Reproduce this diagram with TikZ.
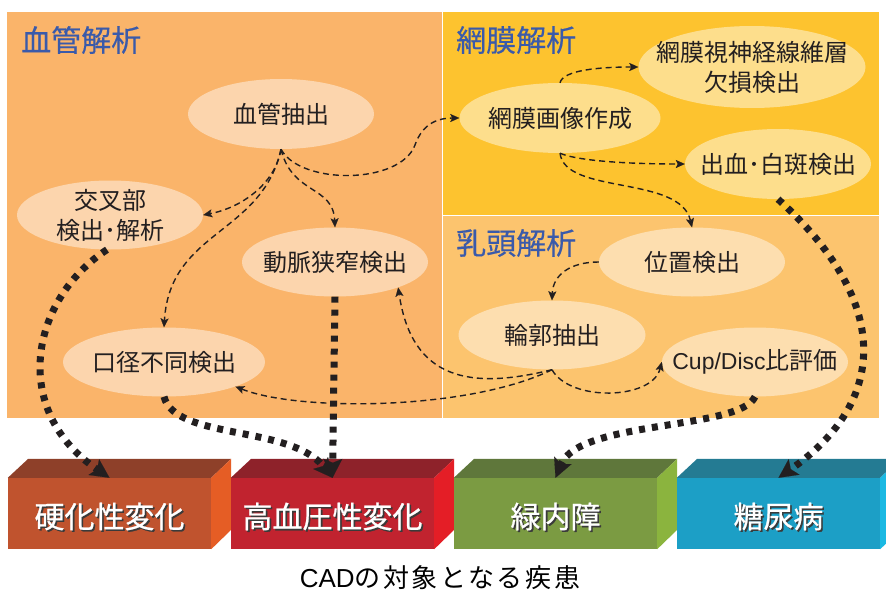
\documentclass[tikz,border=0pt]{standalone}
\usepackage{fontspec}
\setmainfont{Noto Sans CJK JP}
\newfontfamily\arialish{Liberation Sans}
\usetikzlibrary{arrows.meta,shapes.geometric}
\definecolor{panelL}{HTML}{FAB46A}
\definecolor{panelTR}{HTML}{FDC32F}
\definecolor{panelBR}{HTML}{FCC46E}
\definecolor{titleblue}{HTML}{3A5AAA}
\definecolor{ink}{HTML}{231F20}
\definecolor{shadowgray}{HTML}{3A3A3A}
\definecolor{bAf}{HTML}{C0532E}\definecolor{bAt}{HTML}{8E4029}\definecolor{bAs}{HTML}{E55D25}
\definecolor{bBf}{HTML}{C1232F}\definecolor{bBt}{HTML}{8E222A}\definecolor{bBs}{HTML}{E41E26}
\definecolor{bCf}{HTML}{7B9B42}\definecolor{bCt}{HTML}{5F773B}\definecolor{bCs}{HTML}{8BB43E}
\definecolor{bDf}{HTML}{1C9FC6}\definecolor{bDt}{HTML}{247B93}\definecolor{bDs}{HTML}{1BB9E3}
\begin{document}
\begin{tikzpicture}[x=1pt,y=-1pt,
 bub/.style={ellipse,fill=white,fill opacity=0.45,draw=none,inner sep=0pt},
 lbl/.style={text=ink,inner sep=0pt,align=center,font=\fontsize{24}{30}\selectfont},
 ttl/.style={text=titleblue,inner sep=0pt,anchor=west,font=\fontsize{30}{34}\selectfont\addfontfeature{FakeBold=0.4}},
 flow/.style={draw=ink,line width=1.4pt,dash pattern=on 6pt off 4pt,-{Stealth[length=9pt,width=8pt,inset=2pt,line width=0.1pt]}},
 big/.style={draw=ink,line width=7pt,dash pattern=on 6pt off 7pt,-{Stealth[length=19pt,width=19pt,inset=4pt,line width=0.1pt]}},
 front/.style={rectangle,minimum width=203pt,minimum height=71pt,inner sep=0pt},
 btxt/.style={text=white,inner sep=0pt,font=\fontsize{30}{34}\selectfont\addfontfeature{FakeBold=0.8}},
 bsh/.style={text=shadowgray,inner sep=0pt,font=\fontsize{30}{34}\selectfont\addfontfeature{FakeBold=0.8}},
]
\useasboundingbox[fill=white] (0,0) rectangle (886,594);
% panels
\fill[panelL] (7,12) rectangle (442,418);
\fill[panelTR] (443,12) rectangle (879,215);
\fill[panelBR] (443,216) rectangle (879,418);
\node[ttl] (t1) at (21,40) {血管解析};
\node[ttl] (t2) at (456,40) {網膜解析};
\node[ttl] (t3) at (456,243) {乳頭解析};
% bubbles
\node[bub,minimum width=186pt,minimum height=70pt] (vex) at (281,114) {};
\node[bub,minimum width=186pt,minimum height=69pt] (kosa) at (110,215) {};
\node[bub,minimum width=186pt,minimum height=69pt] (art) at (335,262) {};
\node[bub,minimum width=202pt,minimum height=69pt] (kokei) at (164,362) {};
\node[bub,minimum width=201pt,minimum height=70pt] (mo) at (560,118) {};
\node[bub,minimum width=227pt,minimum height=82pt] (sin) at (752,67) {};
\node[bub,minimum width=186pt,minimum height=70pt] (shu) at (778,164) {};
\node[bub,minimum width=186pt,minimum height=69pt] (ichi) at (692,262) {};
\node[bub,minimum width=187pt,minimum height=69pt] (rin) at (552,335) {};
\node[bub,minimum width=186pt,minimum height=69pt] (cup) at (755,362) {};
\node[lbl] (vexT) at (vex) {血管抽出};
\node[lbl] (kosaT) at (kosa) {交叉部\\検出･解析};
\node[lbl] (artT) at (art) {動脈狭窄検出};
\node[lbl] (kokeiT) at (kokei) {口径不同検出};
\node[lbl] (moT) at (mo) {網膜画像作成};
\node[lbl] (sinT) at (sin) {網膜視神経線維層\\欠損検出};
\node[lbl] (shuT) at (shu) {出血･白斑検出};
\node[lbl] (ichiT) at (ichi) {位置検出};
\node[lbl] (rinT) at (rin) {輪郭抽出};
\node[lbl] (cupT) at (cup) {{\arialish\fontsize{23}{30}\selectfont Cup/Disc}比評価};
% thin dashed flows
\draw[flow] (vex.south) .. controls (275,185) and (240,208) .. (kosa.east);
\draw[flow] (vex.south) .. controls (292,195) and (333,185) .. (art.north);
\draw[flow] (vex.south) .. controls (262,235) and (170,230) .. (kokei.north);
\draw[flow] (vex.south) .. controls (300,185) and (400,185) .. (415,145) .. controls (423,122) and (440,118) .. (mo.west);
\draw[flow] (mo.north) .. controls (563,70) and (600,67) .. (sin.west);
\draw[flow] (mo.south) .. controls (575,160) and (620,164) .. (shu.west);
\draw[flow] (mo.south) .. controls (565,195) and (680,175) .. (ichi.north);
\draw[flow] (ichi.west) .. controls (570,262) and (553,275) .. (rin.north);
\draw[flow] (rin.south) .. controls (570,402) and (652,400) .. (cup.west);
\draw[flow] (rin.south) .. controls (470,390) and (412,380) .. (art.-22);
\draw[flow] (rin.south) .. controls (470,410) and (300,412) .. (kokei.-19);
% boxes
\node[front,fill=bAf] (b1) at (109.5,513.5) {};
\fill[bAt] (b1.north west) -- (b1.north east) -- ++(20,-19) -- ++(-203,0) -- cycle;
\fill[bAs] (b1.north east) -- ++(20,-19) -- ++(0,71) -- (b1.south east) -- cycle;
\node[front,fill=bBf] (b2) at (332.5,513.5) {};
\fill[bBt] (b2.north west) -- (b2.north east) -- ++(20,-19) -- ++(-203,0) -- cycle;
\fill[bBs] (b2.north east) -- ++(20,-19) -- ++(0,71) -- (b2.south east) -- cycle;
\node[front,fill=bCf] (b3) at (555.5,513.5) {};
\fill[bCt] (b3.north west) -- (b3.north east) -- ++(20,-19) -- ++(-203,0) -- cycle;
\fill[bCs] (b3.north east) -- ++(20,-19) -- ++(0,71) -- (b3.south east) -- cycle;
\node[front,fill=bDf] (b4) at (778.5,513.5) {};
\fill[bDt] (b4.north west) -- (b4.north east) -- ++(20,-19) -- ++(-203,0) -- cycle;
\fill[bDs] (b4.north east) -- ++(20,-19) -- ++(0,71) -- (b4.south east) -- cycle;
\node[bsh] (b1s) at ([shift={(1.6,4.6)}]b1.center) {硬化性変化};
\node[btxt] (b1t) at ([shift={(0,3)}]b1.center) {硬化性変化};
\node[bsh] (b2s) at ([shift={(1.6,4.6)}]b2.center) {高血圧性変化};
\node[btxt] (b2t) at ([shift={(0,3)}]b2.center) {高血圧性変化};
\node[bsh] (b3s) at ([shift={(1.6,4.6)}]b3.center) {緑内障};
\node[btxt] (b3t) at ([shift={(0,3)}]b3.center) {緑内障};
\node[bsh] (b4s) at ([shift={(1.6,4.6)}]b4.center) {糖尿病};
\node[btxt] (b4t) at ([shift={(0,3)}]b4.center) {糖尿病};
% thick dotted arrows
\draw[big] (kosa.-95) .. controls (30,300) and (10,410) .. (b1.north);
\draw[big] (kokei.south) .. controls (175,440) and (290,425) .. (b2.north);
\draw[big] (art.south) -- (b2.north);
\draw[big] (cup.south) .. controls (740,430) and (580,420) .. (b3.north);
\draw[big] (shu.south) .. controls (890,300) and (890,400) .. (b4.north);
% caption
\node[inner sep=0pt,text=black,text height=19pt,text depth=2pt,font=\fontsize{26}{30}\selectfont\addfontfeature{LetterSpace=10}] (cap) at (440,579) {{\arialish\fontsize{26}{30}\selectfont CAD}の対象となる疾患};
\end{tikzpicture}
\end{document}
